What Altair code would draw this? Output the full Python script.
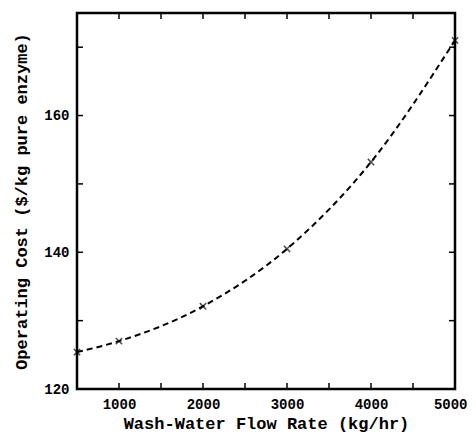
import altair as alt
import pandas as pd

flow = [500, 1000, 2000, 3000, 4000, 5000]
cost = [125.4, 127.0, 132.1, 140.5, 153.2, 171.0]

x_major = [1000, 2000, 3000, 4000, 5000]
x_minor = [1500, 2500, 3500, 4500]
y_major = [140, 160]
y_minor = [130, 150, 170]

W, H = 378, 376
FONT = "Liberation Mono"

df = pd.DataFrame({"flow": flow, "cost": cost})
xs = alt.Scale(domain=[500, 5000], nice=False, zero=False)
ys = alt.Scale(domain=[120, 175], nice=False, zero=False)

base = alt.Chart(df)

line = base.mark_line(color="black", strokeDash=[6, 4], strokeWidth=2, interpolate="monotone").encode(
    x=alt.X("flow:Q", scale=xs,
            axis=alt.Axis(title="Wash-Water Flow Rate (kg/hr)", values=x_major, ticks=False, domain=False,
                          grid=False, labelFont=FONT, labelFontSize=14, labelFontWeight="bold",
                          labelColor="black", labelPadding=8, titleFont=FONT, titleFontSize=17,
                          titleFontWeight="bold", titleColor="black", titlePadding=4, format="d",
                          labelFlush=True, labelFlushOffset=12)),
    y=alt.Y("cost:Q", scale=ys,
            axis=alt.Axis(title="Operating Cost ($/kg pure enzyme)", values=[120, 140, 160], ticks=False,
                          domain=False, grid=False, labelFont=FONT, labelFontSize=14, labelFontWeight="bold",
                          labelColor="black", labelPadding=8, titleFont=FONT, titleFontSize=17,
                          titleFontWeight="bold", titleColor="black", titlePadding=13, labelFlush=False)),
)

pts = base.mark_point(shape="M-1,-1L1,1M-1,1L1,-1", size=40, filled=False, color="black",
                      strokeWidth=1.5).encode(x=alt.X("flow:Q", scale=xs), y=alt.Y("cost:Q", scale=ys))

xt = pd.DataFrame({"v": x_major + x_minor})
yt = pd.DataFrame({"v": y_major + y_minor})

def xticks(y0, sign):
    return alt.Chart(xt).mark_rule(color="black", strokeWidth=1.5).encode(
        x=alt.X("v:Q", scale=xs),
        y=alt.value(y0),
        y2=alt.value(y0 + sign * 6),
    )

def yticks(x0, sign):
    return alt.Chart(yt).mark_rule(color="black", strokeWidth=1.5).encode(
        y=alt.Y("v:Q", scale=ys),
        x=alt.value(x0),
        x2=alt.value(x0 + sign * 6),
    )

chart = alt.layer(
    line, pts,
    xticks(H, -1), xticks(0, 1),
    yticks(0, 1), yticks(W, -1),
).properties(
    width=W, height=H,
    autosize=alt.AutoSizeParams(type="none"),
    padding={"left": 69, "top": 5, "right": 13, "bottom": 46},
).configure(
    background="white",
    view=alt.ViewConfig(stroke="black", strokeWidth=2.5),
)

chart.save("out.html", embed_options={"renderer": "svg", "actions": False})
